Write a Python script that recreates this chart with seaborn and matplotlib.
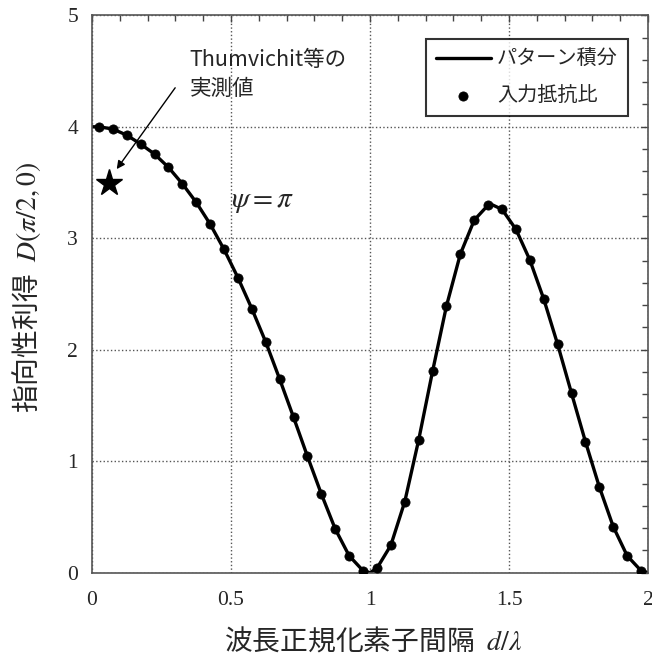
import numpy as np
import pandas as pd
import matplotlib
matplotlib.use('Agg')
import matplotlib.pyplot as plt
from matplotlib.ticker import MultipleLocator
import seaborn as sns

# 入力抵抗比 (markers)
marker_x = [0.025, 0.075, 0.125, 0.175, 0.225, 0.275, 0.325, 0.375, 0.425, 0.475,
            0.525, 0.575, 0.625, 0.675, 0.725, 0.775, 0.825, 0.875, 0.925, 0.975,
            1.025, 1.075, 1.125, 1.175, 1.225, 1.275, 1.325, 1.375, 1.425, 1.475,
            1.525, 1.575, 1.625, 1.675, 1.725, 1.775, 1.825, 1.875, 1.925, 1.975]
marker_y = [4.00, 3.98, 3.925, 3.845, 3.755, 3.636, 3.489, 3.322, 3.127, 2.90,
            2.646, 2.368, 2.069, 1.737, 1.394, 1.044, 0.706, 0.392, 0.152, 0.018,
            0.04, 0.246, 0.637, 1.19, 1.806, 2.392, 2.858, 3.163, 3.298, 3.259,
            3.08, 2.805, 2.455, 2.048, 1.609, 1.175, 0.769, 0.413, 0.152, 0.018]

# パターン積分 (line): same readings plus ends, null and peak
line_x = [0.0] + marker_x[:20] + [1.0] + marker_x[20:29] + [1.44] + marker_x[29:] + [2.0]
line_y = [4.0] + marker_y[:20] + [0.0] + marker_y[20:29] + [3.30] + marker_y[29:] + [0.0]

# Thumvichit等の実測値
meas_x = [0.06]
meas_y = [3.50]

x_ticks = [0, 0.5, 1, 1.5, 2]
x_ticklabels = ['0', '0.5', '1', '1.5', '2']
y_ticks = [0, 1, 2, 3, 4, 5]
y_ticklabels = ['0', '1', '2', '3', '4', '5']

sns.set_theme(style='white')
plt.rcParams['font.family'] = ['Noto Sans CJK JP', 'DejaVu Sans']
plt.rcParams['mathtext.fontset'] = 'stix'

W, H = 652, 658
fig = plt.figure(figsize=(W / 100, H / 100), dpi=100)
ax = fig.add_axes([92 / W, 1 - 572.7 / H, 556 / W, 557.4 / H])

line_df = pd.DataFrame({'d': line_x, 'D': line_y})
mk_df = pd.DataFrame({'d': marker_x, 'D': marker_y})

sns.lineplot(data=line_df, x='d', y='D', color='black', linewidth=2.4,
             ax=ax, label='パターン積分', sort=True)
sns.scatterplot(data=mk_df, x='d', y='D', color='black', s=44, edgecolor='black',
                ax=ax, label='入力抵抗比', zorder=3)
ax.plot(meas_x, meas_y, marker='*', color='black', markersize=20, linestyle='none', zorder=4)

ax.set_xlim(0, 2)
ax.set_ylim(0, 5)
ax.set_xticks(x_ticks)
ax.set_xticklabels(x_ticklabels)
ax.set_yticks(y_ticks)
ax.set_yticklabels(y_ticklabels)
ax.xaxis.set_minor_locator(MultipleLocator(0.1))
ax.yaxis.set_minor_locator(MultipleLocator(0.2))
for lab in ax.get_xticklabels() + ax.get_yticklabels():
    lab.set_fontfamily('Liberation Serif')
    lab.set_fontsize(15.5)

ax.tick_params(which='both', direction='in', top=True, right=True, color='#444444')
ax.tick_params(axis='x', which='major', length=5, width=1, pad=13)
ax.tick_params(axis='y', which='major', length=5, width=1, pad=10)
ax.tick_params(which='minor', length=4, width=1)
ax.grid(True, which='major', linestyle=':', color='#555555', linewidth=1)
for sp in ax.spines.values():
    sp.set_color('#555555')
    sp.set_linewidth(1.2)
ax.set_xlabel('')
ax.set_ylabel('')

# axis labels
fig.text(373 / W, 1 - 642 / H, '波長正規化素子間隔  $d/\\lambda$', fontsize=20,
         ha='center', va='center')
fig.text(27 / W, 1 - 288 / H, '指向性利得  $D(\\pi/2,0)$', fontsize=20, rotation=90,
         ha='center', va='center')

ax.text(0.352, 4.70, 'Thumvichit等の\n実測値', fontsize=15.5, va='top', ha='left',
        linespacing=1.4)
ax.annotate('', xy=(0.083, 3.6), xytext=(0.305, 4.37),
            arrowprops=dict(arrowstyle='-|>', color='black', lw=1, mutation_scale=12))
ax.text(0.50, 3.34, '$\\psi = \\pi$', fontsize=21, va='center', ha='left')

leg = ax.legend(loc='upper right', fontsize=14.5, frameon=True, fancybox=False,
                edgecolor='black', handlelength=2.75, handletextpad=0.3,
                borderpad=0.5, labelspacing=0.75, borderaxespad=0,
                bbox_to_anchor=(0.964, 0.9575))
leg.get_frame().set_linewidth(1.5)

fig.savefig('out.png', dpi=100)
